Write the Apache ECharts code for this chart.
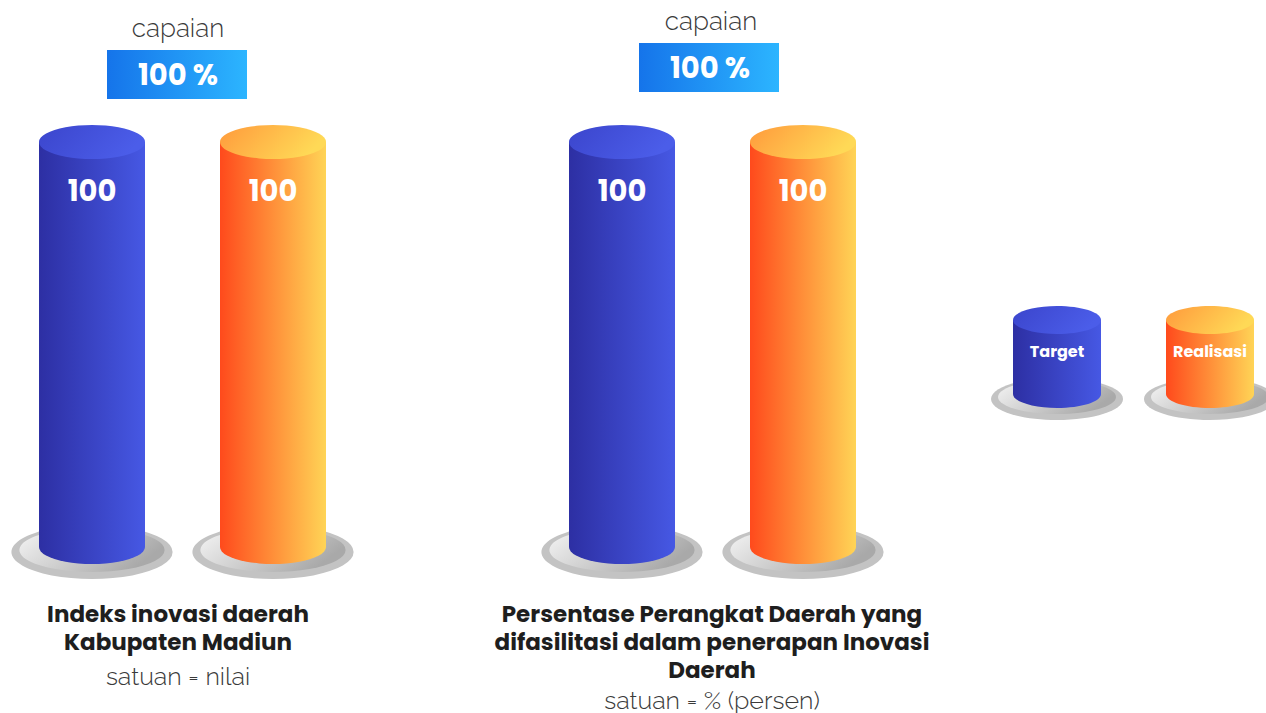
<!DOCTYPE html>
<html>
<head>
<meta charset="utf-8">
<script src="https://cdn.jsdelivr.net/npm/echarts@6/dist/echarts.min.js"></script>
<style>
  html, body { margin: 0; padding: 0; background: #fff; }
  #main { width: 1266px; height: 713px; }
</style>
</head>
<body>
<div id="main"></div>
<script>
// data
const seriesNames = ["Target", "Realisasi"];
const indicators = [
  "Indeks inovasi daerah\nKabupaten Madiun",
  "Persentase Perangkat Daerah yang\ndifasilitasi dalam penerapan Inovasi\nDaerah"
];
const units = ["satuan = nilai", "satuan = % (persen)"];
const targetValues = [100, 100];
const realisasiValues = [100, 100];

const boldFont = "Poppins, 'Open Sans', Inter, sans-serif";
const lightFont = "Raleway, Lato, 'Open Sans', sans-serif";

const grad = (c0, c1, x2, y2) => new echarts.graphic.LinearGradient(0, 0, x2 === undefined ? 1 : x2, y2 || 0, [
  { offset: 0, color: c0 },
  { offset: 1, color: c1 }
]);
const blueSide = () => grad("#2d2fa3", "#4658e4");
const orangeSide = () => grad("#ff4a1c", "#ffd456");
const blueTop = () => grad("#3b45cc", "#4b5de9", 1, 0.3);
const orangeTop = () => grad("#ff9a3c", "#ffd956", 1, 0.3);
const plateInner = () => grad("#f6f6f6", "#a9a9a9", 1, 0.4);

const barW = 106;
const grids = [
  { left: 1.5, top: 142, width: 362, height: 405 },
  { left: 531.5, top: 142, width: 362, height: 405 }
];

let xAxes = [], yAxes = [], series = [];
grids.forEach((g, i) => {
  const vals = [targetValues[i], realisasiValues[i]];
  xAxes.push({ gridIndex: i, type: "category", data: seriesNames, show: false });
  yAxes.push({ gridIndex: i, type: "value", min: 0, max: 100, show: false });
  const common = { xAxisIndex: i, yAxisIndex: i, silent: true };
  // plate outer
  series.push(Object.assign({}, common, {
    type: "pictorialBar", symbol: "circle", symbolPosition: "start",
    symbolSize: [161, 54], symbolOffset: [0, 32], barWidth: barW, barGap: "-100%", z: 1,
    itemStyle: { color: "#c3c3c3" },
    data: vals
  }));
  // plate inner
  series.push(Object.assign({}, common, {
    type: "pictorialBar", symbol: "circle", symbolPosition: "start",
    symbolSize: [145, 44], symbolOffset: [0, 25], barWidth: barW, barGap: "-100%", z: 1,
    itemStyle: { color: plateInner() },
    data: vals
  }));
  // bottom ellipse
  series.push(Object.assign({}, common, {
    type: "pictorialBar", symbol: "circle", symbolPosition: "start",
    symbolSize: [barW, 34], symbolOffset: [0, "50%"], barWidth: barW, barGap: "-100%", z: 2,
    data: [
      { value: vals[0], itemStyle: { color: blueSide() } },
      { value: vals[1], itemStyle: { color: orangeSide() } }
    ]
  }));
  // body
  series.push(Object.assign({}, common, {
    type: "bar", barWidth: barW, z: 3,
    label: {
      show: true, position: "insideTop", distance: 34,
      color: "#fff", fontSize: 29, fontWeight: "bold", fontFamily: boldFont
    },
    data: [
      { value: vals[0], itemStyle: { color: blueSide() } },
      { value: vals[1], itemStyle: { color: orangeSide() } }
    ]
  }));
  // top ellipse
  series.push(Object.assign({}, common, {
    type: "pictorialBar", symbol: "circle", symbolPosition: "end",
    symbolSize: [barW, 34], symbolOffset: [0, "-50%"], barWidth: barW, barGap: "-100%", z: 4,
    data: [
      { value: vals[0], itemStyle: { color: blueTop() } },
      { value: vals[1], itemStyle: { color: orangeTop() } }
    ]
  }));
});

// capaian boxes + indicator titles
const capaianPos = [{ x: 178, y: 28, bx: 107, by: 50 }, { x: 711, y: 21, bx: 639, by: 43 }];
const titlePos = [{ x: 178, y: 600, uy: 676 }, { x: 712, y: 600, uy: 700 }];
let graphics = [];
capaianPos.forEach((p, i) => {
  const pct = Math.round(realisasiValues[i] / targetValues[i] * 100) + " %";
  graphics.push({
    type: "text", x: p.x, y: p.y,
    style: { text: "capaian", fill: "#3a3a3a", font: "300 26px " + lightFont, textAlign: "center", textVerticalAlign: "middle" }
  });
  graphics.push({
    type: "rect", shape: { x: p.bx, y: p.by, width: 140, height: 49 },
    style: { fill: grad("#1574ea", "#2cb5ff") }
  });
  graphics.push({
    type: "text", x: p.bx + 71, y: p.by + 25,
    style: { text: pct, fill: "#fff", font: "bold 29px " + boldFont, textAlign: "center", textVerticalAlign: "middle" }
  });
});
titlePos.forEach((p, i) => {
  graphics.push({
    type: "text", x: p.x, y: p.y,
    style: { text: indicators[i], fill: "#1e1e1e", font: "bold 23px " + boldFont, textAlign: "center", textVerticalAlign: "top", lineHeight: 28 }
  });
  graphics.push({
    type: "text", x: p.x, y: p.uy,
    style: { text: units[i], fill: "#3a3a3a", font: "300 25px " + lightFont, textAlign: "center", textVerticalAlign: "middle" }
  });
});

// legend cylinders
const legendX = [1057, 1210];
const legendSide = [blueSide, orangeSide];
const legendTop = [blueTop, orangeTop];
legendX.forEach((cx, i) => {
  graphics.push({ type: "ellipse", shape: { cx: cx, cy: 399, rx: 66, ry: 21 }, style: { fill: "#c3c3c3" } });
  graphics.push({ type: "ellipse", shape: { cx: cx, cy: 397, rx: 59, ry: 17 }, style: { fill: plateInner() } });
  graphics.push({ type: "ellipse", shape: { cx: cx, cy: 394, rx: 44, ry: 14 }, style: { fill: legendSide[i]() } });
  graphics.push({ type: "rect", shape: { x: cx - 44, y: 320, width: 88, height: 74 }, style: { fill: legendSide[i]() } });
  graphics.push({ type: "ellipse", shape: { cx: cx, cy: 320, rx: 44, ry: 14 }, style: { fill: legendTop[i]() } });
  graphics.push({
    type: "text", x: cx, y: 351,
    style: { text: seriesNames[i], fill: "#fff", font: "bold 16px " + boldFont, textAlign: "center", textVerticalAlign: "middle" }
  });
});

const chart = echarts.init(document.getElementById("main"), null, { renderer: "svg" });
chart.setOption({
  animation: false,
  backgroundColor: "#fff",
  grid: grids,
  xAxis: xAxes,
  yAxis: yAxes,
  series: series,
  graphic: graphics
});
</script>
</body>
</html>
